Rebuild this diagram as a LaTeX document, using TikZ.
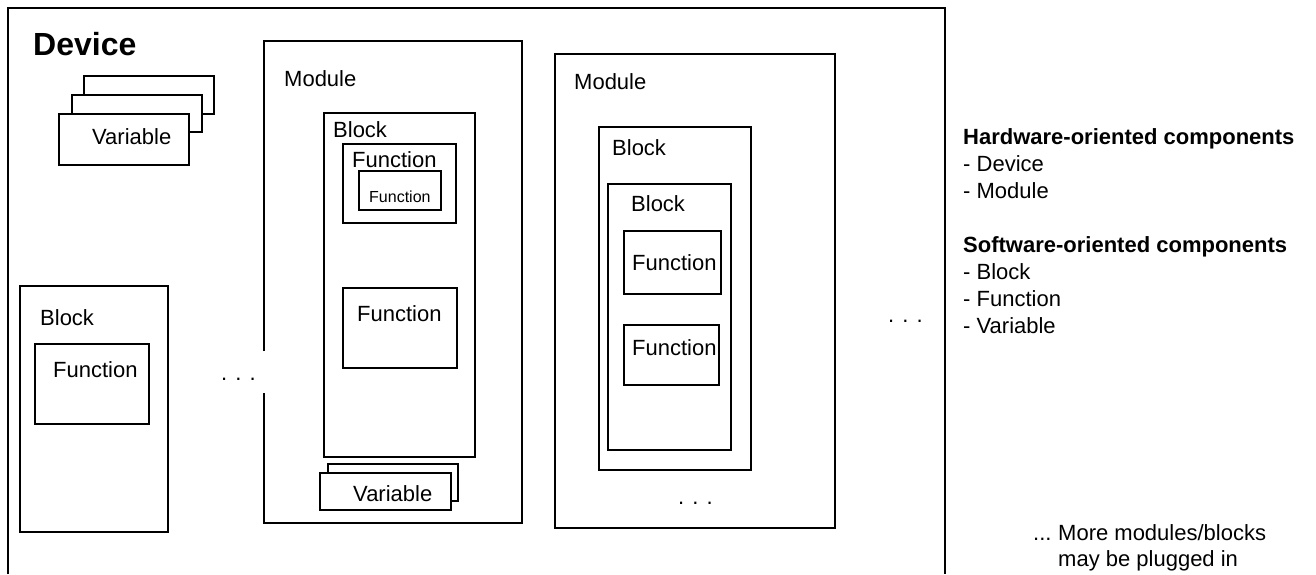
\documentclass[tikz,border=0pt]{standalone}
\usepackage{fontspec}
\setmainfont{Liberation Sans}
\usetikzlibrary{positioning}

\begin{document}
\begin{tikzpicture}[x=1pt, y=-1pt,
    % Styles
    box/.style={rectangle, draw=black, fill=white, line width=2pt, anchor=north west, inner sep=0pt},
    frame/.style={draw=black, line width=2pt},
    txt/.style={anchor=base west, inner sep=0pt, font=\fontsize{22}{27}\selectfont},
    smalltxt/.style={txt, font=\fontsize{16}{19}\selectfont},
    headtxt/.style={txt, font=\fontsize{22}{27}\selectfont\bfseries},
    titletxt/.style={txt, font=\fontsize{32}{38}\selectfont\bfseries}
  ]

  \useasboundingbox (0,0) rectangle (1316,574);

  % Device frame (open at the bottom)
  \draw [frame] (8,574) |- (945,8) -- (945,574);
  \node [titletxt] (devtitle) at (33,55) {Device};

  % Device variables
  \node [box, minimum width=130pt, minimum height=38pt] (devvar3) at (83,75) {};
  \node [box, minimum width=130pt, minimum height=37pt] (devvar2) at (71,94) {};
  \node [box, minimum width=130pt, minimum height=51pt] (devvar1) at (58,113) {};
  \node [txt] (devvarlbl) at (92,144) {Variable};

  % Block on the device
  \node [box, minimum width=148pt, minimum height=246pt] (devblk) at (19,285) {};
  \node [txt] (devblklbl) at (40,325) {Block};
  \node [box, minimum width=114pt, minimum height=80pt] (devfn) at (34,343) {};
  \node [txt] (devfnlbl) at (53,377) {Function};

  \node [txt] (dotsA) at (221,380) {. . .};

  % Module 1 (left edge broken)
  \draw [frame] (264,351) |- (522,41) |- (264,523) -- (264,393);
  \node [txt] (modAlbl) at (284,86) {Module};

  \node [box, minimum width=151pt, minimum height=344pt] (modAblk) at (323,112) {};
  \node [txt] (modAblklbl) at (333,137) {Block};

  \node [box, minimum width=113pt, minimum height=79pt] (modAfn) at (342,143) {};
  \node [txt] (modAfnlbl) at (352,167) {Function};
  \node [box, minimum width=82pt, minimum height=39pt] (modAsubfn) at (358,170) {};
  \node [smalltxt] (modAsubfnlbl) at (369,202) {Function};

  \node [box, minimum width=114pt, minimum height=80pt] (modAfnB) at (342,287) {};
  \node [txt] (modAfnBlbl) at (357,321) {Function};

  \node [box, minimum width=130pt, minimum height=37pt] (modAvar2) at (327,463) {};
  \node [box, minimum width=131pt, minimum height=37pt] (modAvar1) at (319,472) {};
  \node [txt] (modAvarlbl) at (353,501) {Variable};

  % Module 2
  \node [box, minimum width=280pt, minimum height=474pt] (modB) at (554,53) {};
  \node [txt] (modBlbl) at (574,89) {Module};

  \node [box, minimum width=152pt, minimum height=343pt] (modBblk) at (598,126) {};
  \node [txt] (modBblklbl) at (612,155) {Block};
  \node [box, minimum width=123pt, minimum height=266pt] (modBsubblk) at (607,183) {};
  \node [txt] (modBsubblklbl) at (631,211) {Block};

  \node [box, minimum width=97pt, minimum height=63pt] (modBfnA) at (623,230) {};
  \node [txt] (modBfnAlbl) at (632,270) {Function};
  \node [box, minimum width=95pt, minimum height=60pt] (modBfnB) at (623,324) {};
  \node [txt] (modBfnBlbl) at (632,355) {Function};

  \node [txt] (dotsB) at (678,504) {. . .};
  \node [txt] (dotsC) at (888,322) {. . .};

  % Legend
  \node [headtxt] (hwhead) at (963,144) {Hardware-oriented components};
  \node [txt] (hwdev) at (963,171) {- Device};
  \node [txt] (hwmod) at (963,198) {- Module};
  \node [headtxt] (swhead) at (963,252) {Software-oriented components};
  \node [txt] (swblk) at (963,279) {- Block};
  \node [txt] (swfn) at (963,306) {- Function};
  \node [txt] (swvar) at (963,333) {- Variable};

  % Note
  \node [txt] (notedots) at (1033,540) {...};
  \node [txt] (noteA) at (1058,540) {More modules/blocks};
  \node [txt] (noteB) at (1058,566) {may be plugged in};

\end{tikzpicture}
\end{document}
